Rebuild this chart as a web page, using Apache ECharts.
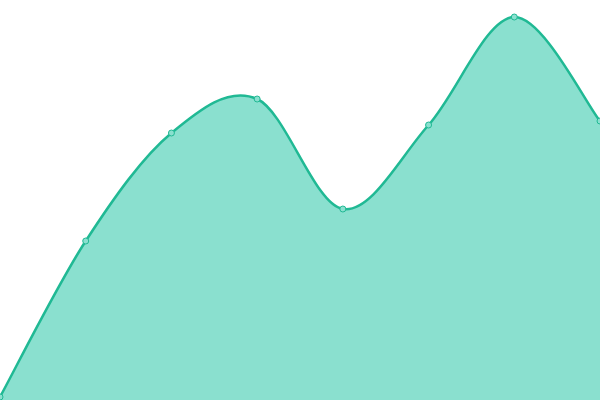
<!DOCTYPE html>
<html>
<head>
<meta charset="utf-8">
<script src="https://cdn.jsdelivr.net/npm/echarts@6/dist/echarts.min.js"></script>
<style>
html, body { margin: 0; padding: 0; background: #fff; }
#main { width: 600px; height: 400px; }
</style>
</head>
<body>
<div id="main"></div>
<script>
// 数据
var categories = ['A', 'B', 'C', 'D', 'E', 'F', 'G', 'H'];
var values = [3, 159, 267, 301, 191, 275, 383, 279];

var lineColor = '#20b994';
var areaColor = '#8ae0cf';

// 平滑曲线 (Catmull-Rom 样条)
function buildPath(api) {
    var pts = [];
    for (var i = 0; i < values.length; i++) {
        pts.push(api.coord([i, values[i]]));
    }
    var n = pts.length;
    var d = 'M' + pts[0][0] + ' ' + pts[0][1];
    for (var k = 0; k < n - 1; k++) {
        var p0 = pts[Math.max(k - 1, 0)];
        var p1 = pts[k];
        var p2 = pts[k + 1];
        var p3 = pts[Math.min(k + 2, n - 1)];
        var c1x = p1[0] + (p2[0] - p0[0]) / 6;
        var c1y = p1[1] + (p2[1] - p0[1]) / 6;
        var c2x = p2[0] - (p3[0] - p1[0]) / 6;
        var c2y = p2[1] - (p3[1] - p1[1]) / 6;
        d += ' C' + c1x + ' ' + c1y + ' ' + c2x + ' ' + c2y + ' ' + p2[0] + ' ' + p2[1];
    }
    var base = api.coord([0, 0])[1];
    var area = d + ' L' + pts[n - 1][0] + ' ' + base + ' L' + pts[0][0] + ' ' + base + ' Z';
    return { line: d, area: area };
}

var myChart = echarts.init(document.getElementById('main'));
var option = {
    animation: false,
    grid: { left: 0, right: 0, top: 0, bottom: 0 },
    xAxis: {
        type: 'category',
        boundaryGap: false,
        data: categories,
        show: false
    },
    yAxis: {
        type: 'value',
        min: 0,
        max: 400,
        show: false
    },
    series: [{
        type: 'custom',
        data: values,
        renderItem: function (params, api) {
            if (params.dataIndex !== 0) return null;
            var path = buildPath(api);
            return {
                type: 'group',
                children: [{
                    type: 'path',
                    shape: { pathData: path.area },
                    style: { fill: areaColor, stroke: null }
                }, {
                    type: 'path',
                    shape: { pathData: path.line },
                    style: { fill: null, stroke: lineColor, lineWidth: 2.5 }
                }]
            };
        }
    }, {
        type: 'line',
        data: values,
        symbol: 'circle',
        symbolSize: 6,
        showAllSymbol: true,
        itemStyle: { color: areaColor, borderColor: lineColor, borderWidth: 1 },
        lineStyle: { opacity: 0 }
    }]
};
myChart.setOption(option);
</script>
</body>
</html>
